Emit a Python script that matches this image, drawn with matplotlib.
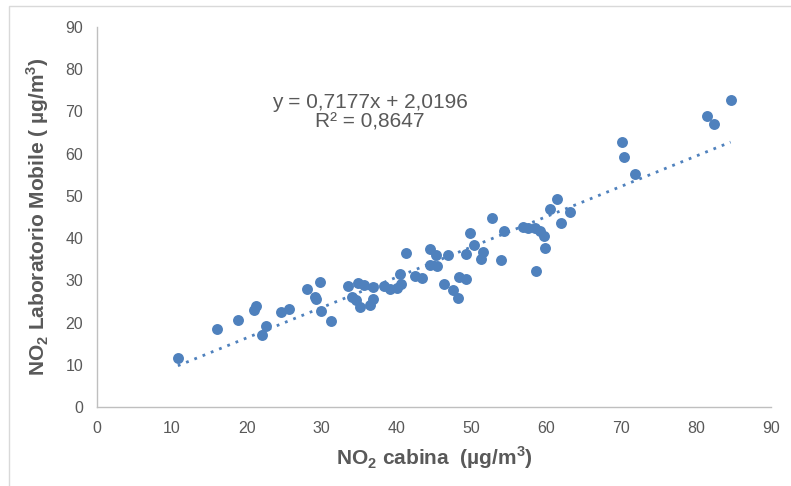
import numpy as np
import matplotlib
matplotlib.use('Agg')
import matplotlib.pyplot as plt
from matplotlib.patches import Rectangle

plt.rcParams['font.family'] = ['Liberation Sans', 'DejaVu Sans']
plt.rcParams['mathtext.fontset'] = 'custom'
plt.rcParams['mathtext.rm'] = 'Liberation Sans'
plt.rcParams['mathtext.bf'] = 'Liberation Sans:bold'

# data
no2_cabina = [10.8, 16.0, 18.8, 21.2, 21.0, 22.5, 22.0, 24.6, 25.6, 28.0,
              29.8, 29.1, 29.2, 29.95, 31.2, 33.5, 34.8, 35.6, 36.9, 34.1,
              34.6, 35.1, 36.4, 36.8, 38.3, 39.1, 40.0, 40.6, 40.4, 41.2,
              42.5, 43.4, 44.5, 45.4, 44.5, 45.3, 46.3, 46.9, 47.5, 48.2,
              48.3, 49.3, 49.3, 49.8, 50.4, 51.6, 51.3, 52.7, 54.0, 54.4,
              56.9, 57.6, 58.5, 59.1, 59.7, 59.8, 58.6, 60.5, 61.4, 62.0,
              63.1, 70.1, 70.4, 71.8, 81.4, 82.4, 84.6]
no2_mobile = [11.5, 18.5, 20.6, 24.0, 23.0, 19.2, 17.1, 22.5, 23.2, 27.9,
              29.6, 26.0, 25.5, 22.7, 20.3, 28.7, 29.3, 28.9, 28.4, 26.1,
              25.3, 23.7, 24.2, 25.6, 28.7, 27.9, 28.3, 29.1, 31.6, 36.4,
              31.0, 30.6, 33.6, 33.3, 37.5, 36.0, 29.2, 35.9, 27.7, 25.8,
              30.8, 30.4, 36.2, 41.1, 38.4, 36.8, 35.0, 44.8, 34.8, 41.6,
              42.7, 42.5, 42.3, 41.6, 40.6, 37.6, 32.3, 46.8, 49.3, 43.5,
              46.3, 62.8, 59.1, 55.3, 68.9, 67.0, 72.7]

slope = 0.7177
intercept = 2.0196
r2 = 0.8647

blue = '#4F81BD'
grey = '#595959'

fig = plt.figure(figsize=(7.91, 4.86), dpi=100)
ax = fig.add_axes([97 / 791, 1 - 407 / 486, 674 / 791, 380 / 486])

fig.patches.append(Rectangle((9 / 791, -0.1), 1.2, 1 - 6 / 486 + 0.1, transform=fig.transFigure,
                             fill=False, edgecolor='#D9D9D9', linewidth=1))

ax.scatter(no2_cabina, no2_mobile, s=62, color=blue, zorder=3, linewidths=0)

xt = np.array([min(no2_cabina), max(no2_cabina)])
ax.plot(xt, slope * xt + intercept, color=blue, linestyle=(0, (1, 2.2)), linewidth=2, zorder=2)

eq = 'y = ' + f'{slope:.4f}'.replace('.', ',') + 'x + ' + f'{intercept:.4f}'.replace('.', ',')
ax.text(36.45, 72.2, eq, ha='center', va='center', fontsize=15, color=grey)
ax.text(36.45, 67.4, 'R² = ' + f'{r2:.4f}'.replace('.', ','), ha='center', va='center', fontsize=15, color=grey)

ax.set_xlim(0, 90)
ax.set_ylim(0, 90)
ax.set_xticks(np.arange(0, 91, 10))
ax.set_yticks(np.arange(0, 91, 10))
ax.tick_params(length=0, labelsize=11.5, labelcolor=grey, pad=10)
for s in ['top', 'right']:
    ax.spines[s].set_visible(False)
for s in ['left', 'bottom']:
    ax.spines[s].set_color('#BFBFBF')
    ax.spines[s].set_linewidth(1)

ax.set_xlabel(r'NO$_\mathbf{2}$ cabina  (µg/m$^\mathbf{3}$)', fontsize=15, fontweight='bold', color=grey, labelpad=6)
ax.set_ylabel(r'NO$_\mathbf{2}$ Laboratorio Mobile ( µg/m$^\mathbf{3}$)', fontsize=15, fontweight='bold', color=grey, labelpad=10)

fig.savefig('out.png', dpi=100)
